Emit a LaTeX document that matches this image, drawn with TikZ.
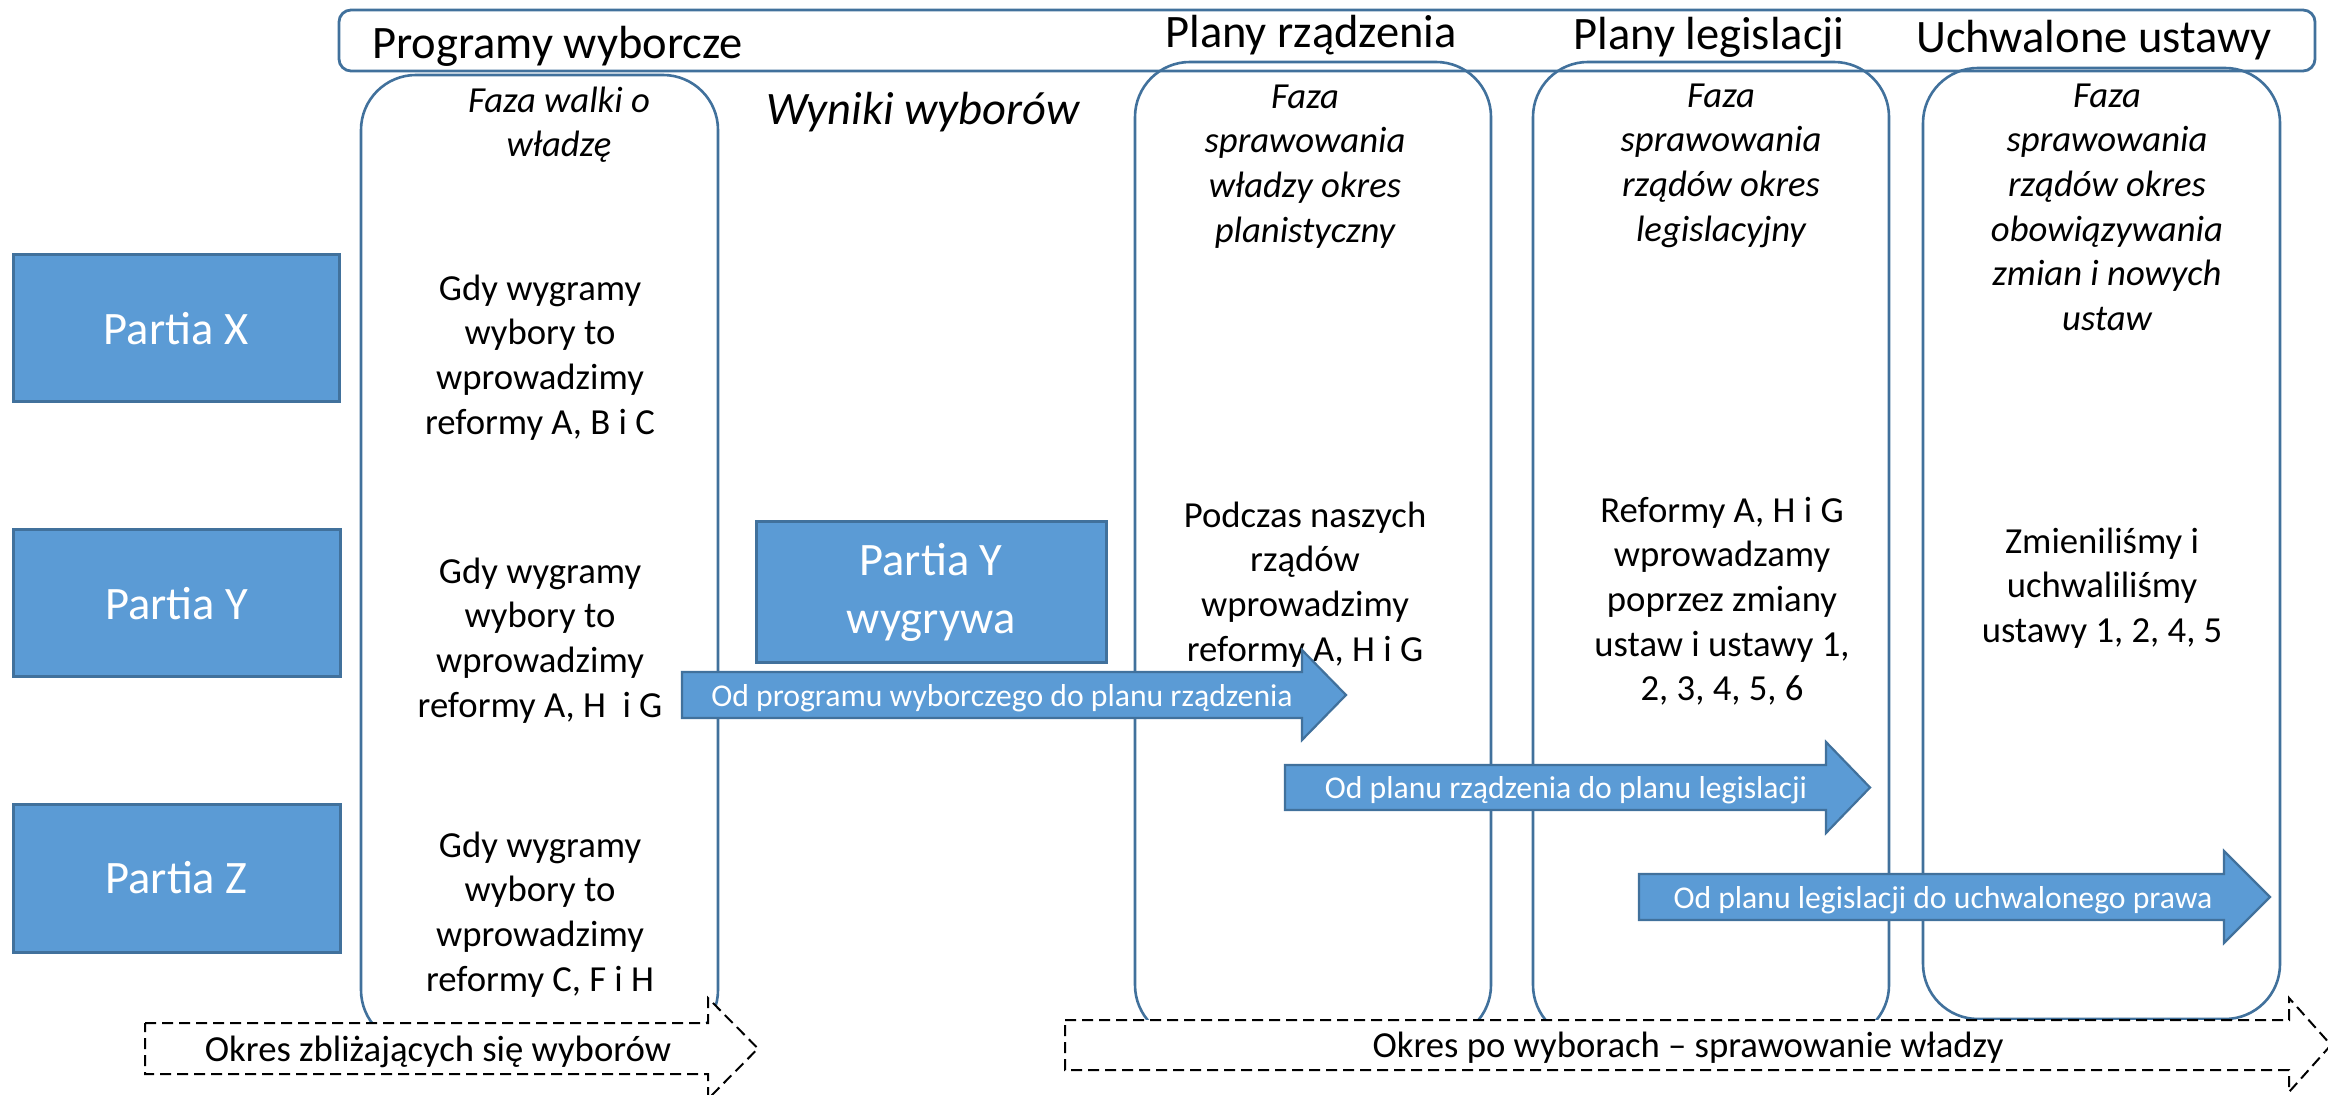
\documentclass[tikz,border=0pt]{standalone}
\usepackage{fontspec}
\setmainfont{Carlito}
\newcommand{\firstln}{\rule{0pt}{0.8em}}
\definecolor{pblue}{HTML}{5B9BD5}
\definecolor{pborder}{HTML}{41719C}
\begin{document}
\begin{tikzpicture}[x=0.5pt,y=-0.5pt,
  banner/.style={draw=pborder,line width=1.4pt,rounded corners=6pt},
  colbox/.style={draw=pborder,line width=1.3pt,rounded corners=27.5pt},
  party/.style={fill=pblue,draw=pborder,line width=1.5pt,text=white,
     font=\fontsize{23.25}{29}\selectfont,align=center,inner sep=0pt},
  blockarrow/.style={fill=pblue,draw=pborder,line width=1.1pt},
  dasharrow/.style={fill=white,draw=black,line width=1pt,dash pattern=on 5.5pt off 3pt},
  bannertext/.style={font=\fontsize{23.25}{29}\selectfont,inner sep=0pt,anchor=base},
  bodytext/.style={font=\fontsize{18.35}{22.3}\selectfont,align=center,inner sep=0pt,anchor=north},
  phasetext/.style={bodytext,font=\fontsize{18.35}{22.3}\selectfont\itshape},
  arrowtext/.style={font=\fontsize{15.85}{19}\selectfont,text=white,inner sep=0pt,anchor=base},
  periodtext/.style={font=\fontsize{18.35}{22.3}\selectfont,inner sep=0pt,anchor=base},
]
\useasboundingbox (0,0) rectangle (2328,1095);

% banner and columns
\draw[banner] (339,10) rectangle (2315,71);
\draw[colbox] (361,75) rectangle (718,1045);
\draw[colbox] (1135,62) rectangle (1491,1040);
\draw[colbox] (1533,62) rectangle (1889,1040);
\draw[colbox] (1923,68) rectangle (2280,1019);

% banner texts
\node[bannertext,anchor=base west] (tprog) at (372,59) {Programy wyborcze};
\node[bannertext] (tplr) at (1311,48) {Plany rządzenia};
\node[bannertext] (tpll) at (1709,50) {Plany legislacji};
\node[bannertext] (tuch) at (2094,53) {Uchwalone ustawy};
\node[bannertext,font=\fontsize{23.25}{29}\selectfont\itshape] (twyn) at (923,125) {Wyniki wyborów};

% party boxes
\node[party,minimum width=163pt,minimum height=73.5pt] (px) at (176,328.5) {Partia X};
\node[party,minimum width=163.5pt,minimum height=73.5pt] (py) at (176.5,603.5) {Partia Y};
\node[party,minimum width=163.5pt,minimum height=74pt] (pz) at (176.5,878) {Partia Z};
\node[party,minimum width=175pt,minimum height=70.5pt] (pyw) at (931,592.5) {Partia Y\\wygrywa};

% phase texts
\node[phasetext] (f1) at (559,82.6) {\firstln Faza walki o\\władzę};
\node[phasetext] (f2) at (1305,78.6) {\firstln Faza\\sprawowania\\władzy okres\\planistyczny};
\node[phasetext] (f3) at (1721,77.6) {\firstln Faza\\sprawowania\\rządów okres\\legislacyjny};
\node[phasetext] (f4) at (2107,77.6) {\firstln Faza\\sprawowania\\rządów okres\\obowiązywania\\zmian i nowych\\ustaw};

% body texts
\node[bodytext] (gx) at (540,270.6) {\firstln Gdy wygramy\\wybory to\\wprowadzimy\\reformy A, B i C};
\node[bodytext] (gy) at (540,553.6) {\firstln Gdy wygramy\\wybory to\\wprowadzimy\\reformy A, H~~i G};
\node[bodytext] (gz) at (540,827.6) {\firstln Gdy wygramy\\wybory to\\wprowadzimy\\reformy C, F i H};
\node[bodytext] (b2) at (1305,497.6) {\firstln Podczas naszych\\rządów\\wprowadzimy\\reformy A, H i G};
\node[bodytext] (b3) at (1722,492.6) {\firstln Reformy A, H i G\\wprowadzamy\\poprzez zmiany\\ustaw i ustawy 1,\\2, 3, 4, 5, 6};
\node[bodytext] (b4) at (2102,523.6) {\firstln Zmieniliśmy i\\uchwaliliśmy\\ustawy 1, 2, 4, 5};

% block arrows
\draw[blockarrow] (682,672) -- (1302,672) -- (1302,650) -- (1346,695) -- (1302,740) -- (1302,718) -- (682,718) -- cycle;
\node[arrowtext] (a1) at (1002,706) {Od programu wyborczego do planu rządzenia};
\draw[blockarrow] (1285,765) -- (1826,765) -- (1826,742) -- (1870,787.5) -- (1826,833) -- (1826,810) -- (1285,810) -- cycle;
\node[arrowtext] (a2) at (1566,798) {Od planu rządzenia do planu legislacji};
\draw[blockarrow] (1639,874) -- (2224,874) -- (2224,851) -- (2270,897) -- (2224,943) -- (2224,920) -- (1639,920) -- cycle;
\node[arrowtext] (a3) at (1943,908) {Od planu legislacji do uchwalonego prawa};

% dashed period arrows
\draw[dasharrow] (145,1023) -- (708,1023) -- (708,998) -- (758,1048.5) -- (708,1099) -- (708,1074) -- (145,1074) -- cycle;
\node[periodtext] (ol) at (438,1061) {Okres zbliżających się wyborów};
\draw[dasharrow] (1065,1020) -- (2289,1020) -- (2289,998) -- (2331,1045) -- (2289,1092) -- (2289,1070) -- (1065,1070) -- cycle;
\node[periodtext] (orr) at (1688,1057) {Okres po wyborach – sprawowanie władzy};
\end{tikzpicture}
\end{document}
